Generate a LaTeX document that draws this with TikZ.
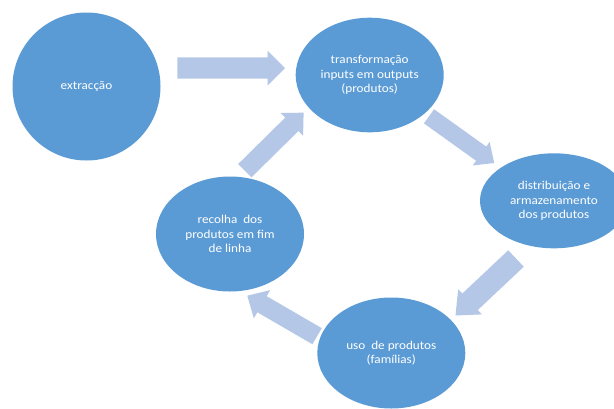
\documentclass[tikz,border=0pt]{standalone}
\usepackage{fontspec}
\setmainfont{Carlito}[FakeStretch=1.1]
\usetikzlibrary{shapes.geometric,calc}
\definecolor{stagefill}{HTML}{5B9BD5}
\definecolor{flowfill}{HTML}{B4C7E7}
\tikzset{
  stage/.style={ellipse, fill=stagefill, draw=none, text=white, inner sep=0pt,
    align=center, font=\fontsize{12}{14.3}\selectfont, minimum width=148pt},
  flow/.style={fill=flowfill, draw=none},
}
% block arrow: #1 tail centre, #2 tip, #3 half shaft width, #4 half head width, #5 head length
\newcommand\flowarrow[5]{%
  \path ($(#2)!#5!(#1)$) coordinate (headbase);
  \fill[flow] ($(#1)!#3!90:(#2)$) -- ($(headbase)!#3!90:(#2)$)
    -- ($(headbase)!#4!90:(#2)$) -- (#2) -- ($(headbase)!#4!-90:(#2)$)
    -- ($(headbase)!#3!-90:(#2)$) -- ($(#1)!#3!-90:(#2)$) -- cycle;}
\begin{document}
\begin{tikzpicture}[x=1pt,y=-1pt]
\useasboundingbox (0,0) rectangle (614,408);
\fill[white] (0,0) rectangle (614,408);
\clip (0,0) rectangle (614,408);

% stages of the product life cycle
\node[stage, minimum height=148pt]   (extr)   at (86.5,86.5) {extracção};
\node[stage, minimum height=114.6pt] (transf) at (369.7,75)  {transformação\\inputs em outputs\\(produtos)};
\node[stage, minimum height=95pt]    (distr)  at (554,200.8) {distribuição e\\armazenamento\\dos produtos};
\node[stage, minimum height=115pt]   (recol)  at (230,234)   {recolha\ \ dos\\produtos em fim\\de linha};
\node[stage, minimum height=111pt]   (uso)    at (391.3,353) {uso\ \ de produtos\\(famílias)};

% ends of the block arrows between the stages
\coordinate (a1s) at (177.4,68);   \coordinate (a1e) at (285,68);
\coordinate (a2s) at (429,116.3);  \coordinate (a2e) at (494.2,163);
\coordinate (a3s) at (516,258.5);  \coordinate (a3e) at (455.5,315.5);
\coordinate (a4s) at (317.1,336.2);\coordinate (a4e) at (247.3,295.7);
\coordinate (a5s) at (244.8,170.7);\coordinate (a5e) at (303.6,112.7);

\flowarrow{a1s}{a1e}{10.7pt}{17.5pt}{17.5pt}
\flowarrow{a2s}{a2e}{8.7pt}{14.5pt}{16pt}
\flowarrow{a3s}{a3e}{11.3pt}{17.3pt}{20pt}
\flowarrow{a4s}{a4e}{9.3pt}{16.3pt}{17pt}
\flowarrow{a5s}{a5e}{9.4pt}{16pt}{16.5pt}
\end{tikzpicture}
\end{document}
